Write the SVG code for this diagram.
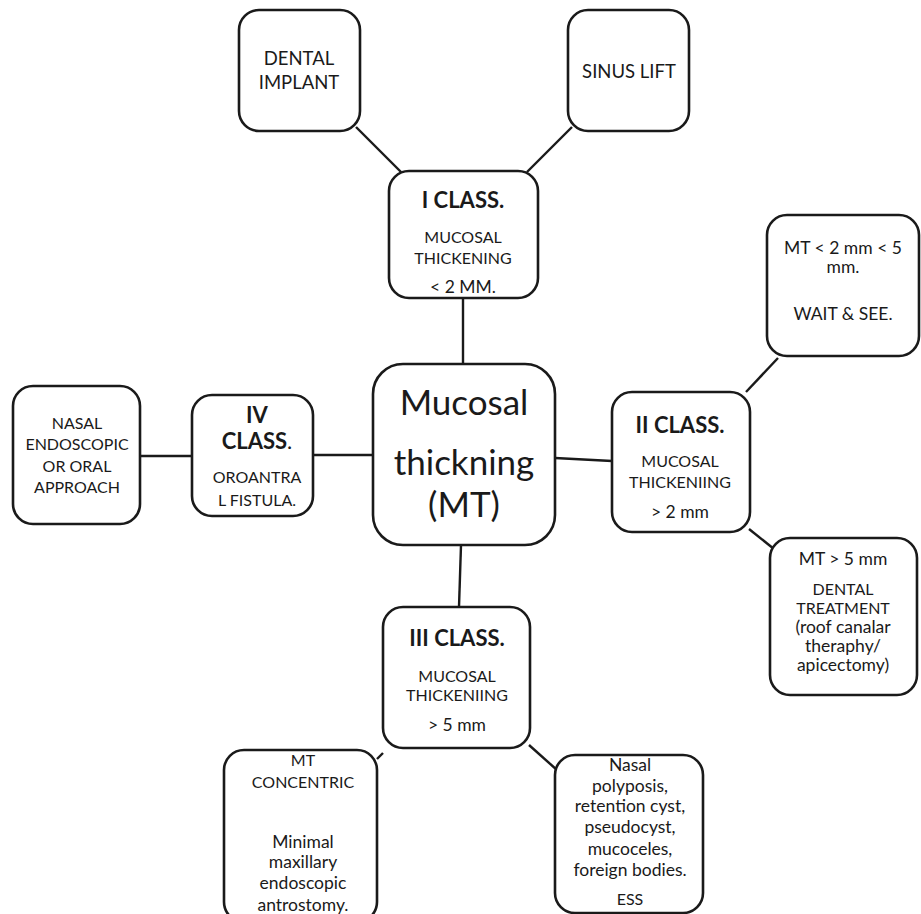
<svg xmlns="http://www.w3.org/2000/svg" width="921" height="914" viewBox="0 0 921 914">
<style>
.box{fill:#fff;stroke:#1a1a1a;stroke-width:2.6}
.ln{stroke:#1a1a1a;stroke-width:2.4;fill:none}
text{font-family:Lato,"Open Sans","Liberation Sans",sans-serif;fill:#1a1a1a;text-anchor:middle}
.t{font-size:18.5px}
.n{font-size:16px}
.s{font-size:16px}
.l{font-size:17.5px}
.b{font-size:22px;font-weight:bold}
.c{font-size:35px}
</style>
<rect width="921" height="914" fill="#fff"/>
<g id="connectors">
<line class="ln" x1="356" y1="127" x2="401" y2="172"/>
<line class="ln" x1="572" y1="127" x2="527" y2="172"/>
<line class="ln" x1="463" y1="298" x2="463" y2="365"/>
<line class="ln" x1="140" y1="456" x2="192" y2="456"/>
<line class="ln" x1="313" y1="455" x2="373" y2="455"/>
<line class="ln" x1="555" y1="458" x2="612" y2="461"/>
<line class="ln" x1="746" y1="392" x2="778" y2="358"/>
<line class="ln" x1="749" y1="529" x2="774" y2="549"/>
<line class="ln" x1="461" y1="545" x2="459" y2="607"/>
<line class="ln" x1="377" y1="759" x2="383" y2="753"/>
<line class="ln" x1="529" y1="745" x2="557" y2="770"/>
</g>
<g id="dental-implant">
<rect class="box" x="239" y="10" width="121" height="121" rx="20"/>
<text class="t" x="299" y="65">DENTAL</text>
<text class="t" x="299" y="89">IMPLANT</text>
</g>
<g id="sinus-lift">
<rect class="box" x="568" y="10" width="121" height="121" rx="20"/>
<text class="t" x="629" y="78">SINUS LIFT</text>
</g>
<g id="class-1">
<rect class="box" x="389" y="171" width="149" height="127" rx="20"/>
<text class="b" x="463" y="208">I CLASS.</text>
<text class="s" x="463" y="243">MUCOSAL</text>
<text class="s" x="463" y="264">THICKENING</text>
<text class="l" x="463" y="293">&lt; 2 MM.</text>
</g>
<g id="center">
<rect class="box" x="373" y="364" width="182" height="181" rx="30"/>
<text class="c" x="464" y="415">Mucosal</text>
<text class="c" x="464" y="475">thickning</text>
<text class="c" x="464" y="517">(MT)</text>
</g>
<g id="class-4">
<rect class="box" x="192" y="395" width="121" height="121" rx="20"/>
<text class="b" x="257" y="423">IV</text>
<text class="b" x="257" y="449">CLASS<tspan font-weight="normal">.</tspan></text>
<text class="s" x="257" y="483">OROANTRA</text>
<text class="s" x="257" y="506">L FISTULA.</text>
</g>
<g id="nasal-endoscopic">
<rect class="box" x="13" y="386" width="127" height="138" rx="20"/>
<text class="n" x="77" y="429">NASAL</text>
<text class="n" x="77" y="450">ENDOSCOPIC</text>
<text class="n" x="77" y="472">OR ORAL</text>
<text class="n" x="77" y="493">APPROACH</text>
</g>
<g id="class-2">
<rect class="box" x="612" y="392" width="138" height="140" rx="20"/>
<text class="b" x="680" y="433">II CLASS.</text>
<text class="s" x="680" y="467">MUCOSAL</text>
<text class="s" x="680" y="488">THICKENIING</text>
<text class="l" x="680" y="518">&gt; 2 mm</text>
</g>
<g id="wait-see">
<rect class="box" x="767" y="215" width="152" height="141" rx="20"/>
<text class="l" x="843" y="254">MT &lt; 2 mm &lt; 5</text>
<text class="l" x="843" y="273">mm.</text>
<text class="l" x="843" y="320">WAIT &amp; SEE.</text>
</g>
<g id="dental-treatment">
<rect class="box" x="770" y="538" width="147" height="157" rx="20"/>
<text class="l" x="843" y="565">MT &gt; 5 mm</text>
<text class="s" x="843" y="595">DENTAL</text>
<text class="s" x="843" y="614">TREATMENT</text>
<text class="l" x="843" y="633">(roof canalar</text>
<text class="l" x="843" y="652">theraphy/</text>
<text class="l" x="843" y="671">apicectomy)</text>
</g>
<g id="class-3">
<rect class="box" x="383" y="607" width="147" height="141" rx="20"/>
<text class="b" x="457" y="646">III CLASS.</text>
<text class="s" x="457" y="682">MUCOSAL</text>
<text class="s" x="457" y="701">THICKENIING</text>
<text class="l" x="457" y="731">&gt; 5 mm</text>
</g>
<g id="mt-concentric">
<rect class="box" x="224" y="750" width="153" height="172" rx="20"/>
<text class="s" x="303" y="766">MT</text>
<text class="s" x="303" y="788">CONCENTRIC</text>
<text class="l" x="303" y="848">Minimal</text>
<text class="l" x="303" y="868">maxillary</text>
<text class="l" x="303" y="889">endoscopic</text>
<text class="l" x="303" y="911">antrostomy.</text>
</g>
<g id="ess">
<rect class="box" x="555" y="755" width="148" height="158" rx="20"/>
<text class="l" x="630" y="771">Nasal</text>
<text class="l" x="630" y="792">polyposis,</text>
<text class="l" x="630" y="812">retention cyst,</text>
<text class="l" x="630" y="833">pseudocyst,</text>
<text class="l" x="630" y="855">mucoceles,</text>
<text class="l" x="630" y="876">foreign bodies.</text>
<text class="s" x="630" y="905">ESS</text>
</g>
</svg>
